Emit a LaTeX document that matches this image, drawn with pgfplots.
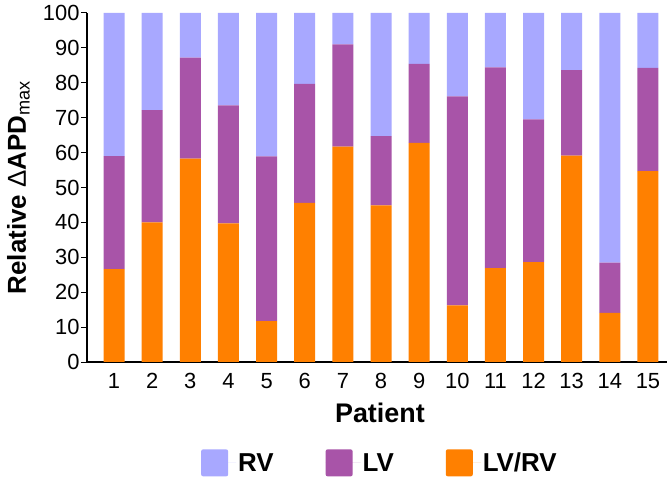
\documentclass[border=0pt]{standalone}
\usepackage{fontspec}
\setmainfont{Liberation Sans}
\usepackage{pgfplots}
\pgfplotsset{compat=1.18}
\definecolor{rvc}{RGB}{168,168,255}
\definecolor{lvc}{RGB}{168,84,168}
\definecolor{orc}{RGB}{255,128,0}
\begin{document}
\begin{tikzpicture}[x=1bp,y=1bp]
\begin{axis}[
  at={(0,0)}, anchor=south west,
  scale only axis,
  width=580bp, height=349bp,
  ybar stacked,
  bar width=21bp,
  xmin=0.29, xmax=15.5,
  ymin=0, ymax=100,
  xtick={1,...,15},
  ytick={0,10,...,100},
  axis x line*=bottom,
  axis y line*=left,
  x axis line style={-, line width=1.3pt},
  y axis line style={-, line width=1.3pt},
  major x tick style={draw=none},
  y tick style={line width=1pt, black},
  tick align=outside,
  major tick length=6bp,
  /pgf/number format/assume math mode=true,
  tick label style={font=\fontsize{22}{24}\selectfont},
  xticklabel style={anchor=north, yshift=-2bp},
  yticklabel style={xshift=2bp},
  xlabel={\textbf{Patient}},
  xlabel style={font=\fontsize{27}{29}\selectfont, at={(axis description cs:0.505,-0.146)}, anchor=center},
  ylabel={\textbf{Relative} Δ\textbf{APD}\textsubscript{max}},
  ylabel style={font=\fontsize{26}{28}\selectfont, at={(axis description cs:-0.118,0.5)}, anchor=center, rotate=0},
  legend style={at={(axis description cs:0.505,-0.289)}, anchor=center, draw=none, legend columns=3,
    font=\bfseries\fontsize{26}{28}\selectfont,
    /tikz/every even column/.append style={column sep=50bp}},
  reverse legend,
  legend image code/.code={\fill[#1, rounded corners=2bp] (0bp,-13.5bp) rectangle (27bp,13.5bp); \path (0bp,0bp) -- (35bp,0bp);},
]
\addplot[fill=orc, draw=none] coordinates {(1,26.6) (2,40.0) (3,58.3) (4,39.7) (5,11.7) (6,45.6) (7,61.7) (8,44.9) (9,62.8) (10,16.2) (11,26.9) (12,28.6) (13,59.1) (14,14.1) (15,54.7)};
\addlegendentry{LV/RV}
\addplot[fill=lvc, draw=none] coordinates {(1,32.4) (2,32.2) (3,28.9) (4,33.8) (5,47.2) (6,34.1) (7,29.3) (8,19.8) (9,22.6) (10,59.9) (11,57.5) (12,40.9) (13,24.5) (14,14.4) (15,29.6)};
\addlegendentry{LV}
\addplot[fill=rvc, draw=none] coordinates {(1,41.0) (2,27.8) (3,12.8) (4,26.5) (5,41.1) (6,20.3) (7,9.0) (8,35.3) (9,14.6) (10,23.9) (11,15.6) (12,30.5) (13,16.4) (14,71.5) (15,15.7)};
\addlegendentry{RV}
\end{axis}
\pgfresetboundingbox
\path (-87,-119) rectangle (585,362);
\end{tikzpicture}
\end{document}
